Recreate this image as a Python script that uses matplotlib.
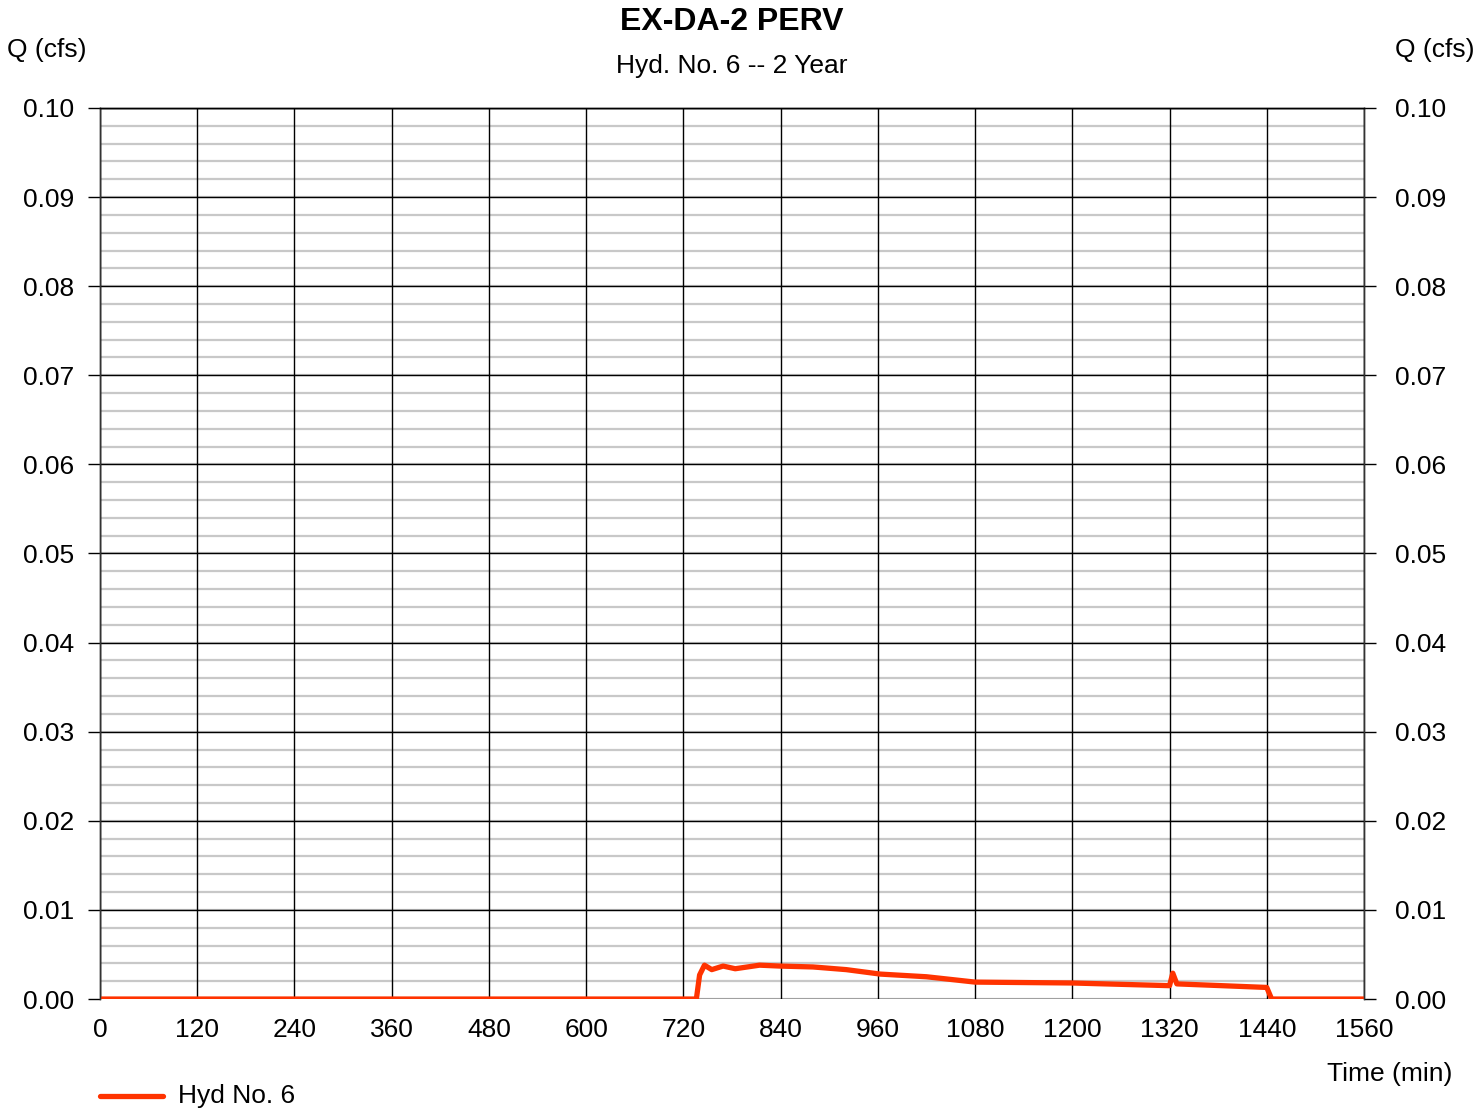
import numpy as np
import matplotlib.pyplot as plt
from matplotlib.lines import Line2D

plt.rcParams['font.family'] = ['Liberation Sans', 'DejaVu Sans']

# Hydrograph (time in min, flow in cfs)
time_min = [0, 736, 740, 746, 755, 769, 784, 814, 839, 880, 921, 963, 1020, 1080,
            1200, 1320, 1324, 1329, 1440, 1446, 1560]
flow_cfs = [0.0, 0.0, 0.0027, 0.0038, 0.0033, 0.0037, 0.0034, 0.0038, 0.0037, 0.0036,
            0.0033, 0.0028, 0.0025, 0.0019, 0.0018, 0.0015, 0.0029, 0.0017, 0.0013, 0.0, 0.0]

x_ticks = np.arange(0, 1561, 120)
y_ticks = np.arange(0, 0.1001, 0.01)
y_minor = np.arange(0, 0.1001, 0.002)
y_labels = ['%.2f' % v for v in y_ticks]

red = '#ff3300'
fs = 19

fig = plt.figure(figsize=(14.73, 11.14), dpi=100)
ax = fig.add_axes([0.0679, 0.1032, 0.8581, 0.7999])

# Minor (gray) and major (black) grid
for y in y_minor:
    ax.axhline(y, color='#c8c8c8', lw=1.6, zorder=1)
for y in y_ticks:
    ax.axhline(y, color='black', lw=1.0, zorder=2)
for x in x_ticks:
    ax.axvline(x, color='black', lw=1.0, zorder=2)

ax.plot(time_min, flow_cfs, color=red, lw=3.8, solid_joinstyle='round',
        solid_capstyle='round', zorder=5)

ax.set_xlim(0, 1560)
ax.set_ylim(0, 0.1)
ax.set_xticks(x_ticks)
ax.set_yticks(y_ticks)
ax.set_yticklabels(y_labels)
ax.tick_params(axis='y', length=8.6, width=1.0, labelsize=fs, pad=10)
ax.tick_params(axis='x', length=0, labelsize=fs, pad=14)

# Right-hand axis repeats the flow scale
ax2 = ax.twinx()
ax2.set_ylim(0, 0.1)
ax2.set_yticks(y_ticks)
ax2.set_yticklabels(y_labels)
ax2.tick_params(axis='y', length=8.6, width=1.0, labelsize=fs, pad=14)

for a in (ax, ax2):
    for s in a.spines.values():
        s.set_linewidth(1.0)
    a.spines['bottom'].set_visible(False)
    a.spines['left'].set_color('#333333')
    a.spines['right'].set_color('#333333')

fig.text(0.497, 0.980, 'EX-DA-2 PERV', ha='center', va='center', fontsize=23, fontweight='bold')
fig.text(0.497, 0.941, 'Hyd. No. 6 -- 2 Year', ha='center', va='center', fontsize=fs)
fig.text(0.005, 0.955, 'Q (cfs)', ha='left', va='center', fontsize=fs)
fig.text(1395 / 1473, 0.955, 'Q (cfs)', ha='left', va='center', fontsize=fs)
fig.text(0.986, 0.036, 'Time (min)', ha='right', va='center', fontsize=fs)

# Legend
fig.lines.append(Line2D([100 / 1473, 163 / 1473], [1 - 1096 / 1114] * 2, color=red, lw=3.8,
                        solid_capstyle='round', transform=fig.transFigure))
fig.text(178 / 1473, 1 - 1096 / 1114, 'Hyd No. 6', ha='left', va='center', fontsize=fs)

fig.savefig('out.png')
